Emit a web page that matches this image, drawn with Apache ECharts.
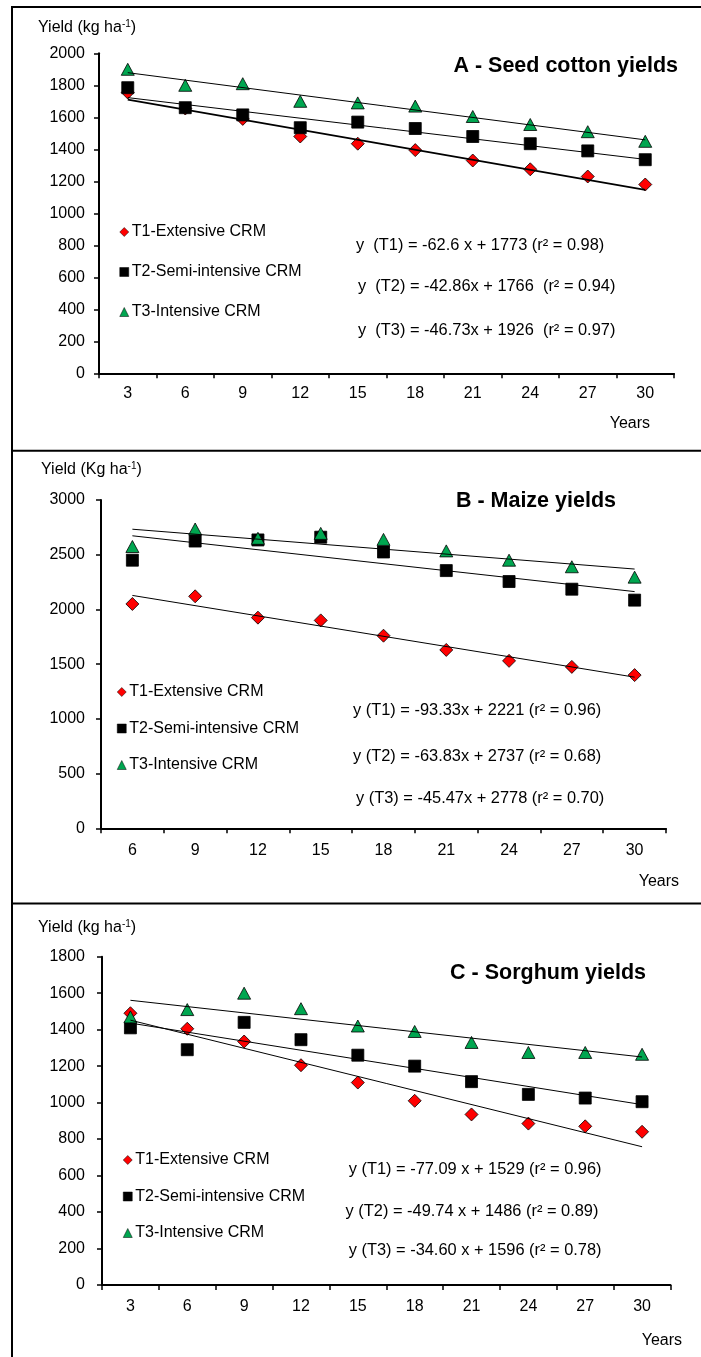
<!DOCTYPE html>
<html>
<head>
<meta charset="utf-8">
<script src="https://cdn.jsdelivr.net/npm/echarts@6/dist/echarts.min.js"></script>
<style>
html,body{margin:0;padding:0;background:#fff;}
#chart{width:701px;height:1357px;}
</style>
</head>
<body>
<div id="chart"></div>
<script>
// ---- data ----
const yearsA = ['3','6','9','12','15','18','21','24','27','30'];
const cottonT1 = [1755,1655,1590,1480,1435,1395,1330,1275,1230,1180];
const cottonT2 = [1785,1660,1615,1535,1570,1530,1480,1435,1390,1335];
const cottonT3 = [1900,1800,1810,1700,1690,1670,1605,1555,1510,1450];
const cottonTrendT1 = [1710,1147];
const cottonTrendT2 = [1723,1337];
const cottonTrendT3 = [1879,1459];

const yearsB = ['6','9','12','15','18','21','24','27','30'];
const maizeT1 = [2050,2120,1925,1900,1760,1630,1530,1475,1400];
const maizeT2 = [2450,2625,2635,2660,2525,2355,2255,2185,2085];
const maizeT3 = [2575,2735,2650,2695,2640,2535,2450,2390,2295];
const maizeTrendT1 = [2128,1381];
const maizeTrendT2 = [2673,2163];
const maizeTrendT3 = [2733,2369];

const yearsC = ['3','6','9','12','15','18','21','24','27','30'];
const sorghumT1 = [1490,1405,1335,1205,1110,1010,935,885,870,840];
const sorghumT2 = [1410,1290,1440,1345,1260,1200,1115,1045,1025,1005];
const sorghumT3 = [1470,1510,1600,1515,1420,1390,1330,1275,1275,1265];
const sorghumTrendT1 = [1452,758];
const sorghumTrendT2 = [1436,989];
const sorghumTrendT3 = [1561,1250];

const seriesNames = ['T1-Extensive CRM','T2-Semi-intensive CRM','T3-Intensive CRM'];
const yTicksA = {min:0, max:2000, interval:200};
const yTicksB = {min:0, max:3000, interval:500};
const yTicksC = {min:0, max:1800, interval:200};

const eqA = ['y  (T1) = -62.6 x + 1773 (r\u00b2 = 0.98)','y  (T2) = -42.86x + 1766  (r\u00b2 = 0.94)','y  (T3) = -46.73x + 1926  (r\u00b2 = 0.97)'];
const eqB = ['y (T1) = -93.33x + 2221 (r\u00b2 = 0.96)','y (T2) = -63.83x + 2737 (r\u00b2 = 0.68)','y (T3) = -45.47x + 2778 (r\u00b2 = 0.70)'];
const eqC = ['y (T1) = -77.09 x + 1529 (r\u00b2 = 0.96)','y (T2) = -49.74 x + 1486 (r\u00b2 = 0.89)','y (T3) = -34.60 x + 1596 (r\u00b2 = 0.78)'];

// ---- styles ----
const FF = '"Liberation Sans", Arial, sans-serif';
const FS = 16;
const EQFS = 16.4;
const RED = '#FF0000', BLACK = '#000000', GREEN = '#00A650';
const symbols = ['diamond','rect','triangle'];
const colors = [RED, BLACK, GREEN];
const sizes = [[13,13],[12,12],[13,12]];

const panels = [
  {cats: yearsA, vals:[cottonT1,cottonT2,cottonT3], trends:[cottonTrendT1,cottonTrendT2,cottonTrendT3], y:yTicksA,
   grid:{left:99, top:53.3, width:575, height:320}, yLabMargin:14, xLabMargin:12, trendW:[1.8,1,1]},
  {cats: yearsB, vals:[maizeT1,maizeT2,maizeT3], trends:[maizeTrendT1,maizeTrendT2,maizeTrendT3], y:yTicksB,
   grid:{left:101, top:500, width:565, height:328.3}, yLabMargin:16, xLabMargin:14, trendW:[1,1,1]},
  {cats: yearsC, vals:[sorghumT1,sorghumT2,sorghumT3], trends:[sorghumTrendT1,sorghumTrendT2,sorghumTrendT3], y:yTicksC,
   grid:{left:102, top:956.7, width:568.5, height:328.3}, yLabMargin:17, xLabMargin:13.5, trendW:[1,1,1]}
];

const grid = [], xAxis = [], yAxis = [], series = [];
panels.forEach((p, i) => {
  grid.push(Object.assign({containLabel:false}, p.grid));
  xAxis.push({
    type:'category', gridIndex:i, data:p.cats, boundaryGap:true,
    axisLine:{lineStyle:{color:BLACK, width:2}},
    axisTick:{show:true, length:5, lineStyle:{color:BLACK, width:1.5}, alignWithLabel:false},
    axisLabel:{color:BLACK, fontSize:FS, fontFamily:FF, margin:p.xLabMargin},
    splitLine:{show:false}
  });
  yAxis.push({
    type:'value', gridIndex:i, min:p.y.min, max:p.y.max, interval:p.y.interval,
    axisLine:{show:true, lineStyle:{color:BLACK, width:2}},
    axisTick:{show:true, length:5, lineStyle:{color:BLACK, width:1.5}},
    axisLabel:{color:BLACK, fontSize:FS, fontFamily:FF, margin:p.yLabMargin, formatter: v => String(v)},
    splitLine:{show:false}
  });
  p.vals.forEach((vals, k) => {
    series.push({
      name: seriesNames[k], type:'scatter', xAxisIndex:i, yAxisIndex:i,
      symbol: symbols[k], symbolSize: sizes[k],
      itemStyle:{color:colors[k], borderColor:BLACK, borderWidth:0.8, opacity:1},
      data: vals.map((v, j) => [p.cats[j], v]), z:2
    });
  });
  p.trends.forEach((t, k) => {
    series.push({
      name: 'trend-' + i + '-' + k, type:'line', xAxisIndex:i, yAxisIndex:i,
      symbol:'none', silent:true,
      lineStyle:{color:BLACK, width:p.trendW[k]},
      data: [[p.cats[0], t[0]], [p.cats[p.cats.length-1], t[1]]], z:4
    });
  });
});

function legendAt(left, top, gap) {
  return {
    orient:'vertical', left:left, top:top, itemGap:gap, itemWidth:9, itemHeight:9,
    padding:0, selectedMode:false,
    itemStyle:{borderWidth:0.5},
    textStyle:{color:BLACK, fontSize:FS, fontFamily:FF, lineHeight:16, padding:[0,0,0,-2]},
    data: seriesNames.map((n, k) => ({name:n, icon:symbols[k]}))
  };
}

function txt(x, y, text, opts) {
  return {type:'text', x:x, y:y, silent:true,
    style:Object.assign({text:text, fill:BLACK, font: EQFS + 'px ' + FF, align:'left', verticalAlign:'middle'}, opts || {})};
}
function yName(x, y, unit) {
  return {type:'text', x:x, y:y, silent:true,
    style:{text:'{a|Yield (' + unit + ' ha}{s|-1}{a|)}', fill:BLACK, align:'left', verticalAlign:'middle',
      rich:{a:{fontSize:FS, fontFamily:FF, lineHeight:18, fill:BLACK},
            s:{fontSize:10, fontFamily:FF, verticalAlign:'top', lineHeight:18, fill:BLACK}}}};
}
const titleFont = 'bold 21.5px ' + FF;

const graphic = [
  // frame
  {type:'line', shape:{x1:12, y1:6, x2:12, y2:1357}, style:{stroke:BLACK, lineWidth:2}, silent:true},
  {type:'line', shape:{x1:11, y1:7, x2:701, y2:7}, style:{stroke:BLACK, lineWidth:2}, silent:true},
  {type:'line', shape:{x1:11, y1:450.7, x2:701, y2:450.7}, style:{stroke:BLACK, lineWidth:2}, silent:true},
  {type:'line', shape:{x1:11, y1:903.5, x2:701, y2:903.5}, style:{stroke:BLACK, lineWidth:2}, silent:true},
  // panel A
  yName(38, 28, 'kg'),
  txt(678, 66, 'A - Seed cotton yields', {font:titleFont, align:'right'}),
  txt(650, 424, 'Years', {align:'right', font: FS + 'px ' + FF}),
  txt(356, 245, eqA[0]), txt(358, 286, eqA[1]), txt(358, 330, eqA[2]),
  // panel B
  yName(41, 470, 'Kg'),
  txt(616, 500.7, 'B - Maize yields', {font:titleFont, align:'right'}),
  txt(679, 882, 'Years', {align:'right', font: FS + 'px ' + FF}),
  txt(353, 710, eqB[0]), txt(353, 756, eqB[1]), txt(356, 798, eqB[2]),
  // panel C
  yName(38, 928, 'kg'),
  txt(646, 973, 'C - Sorghum yields', {font:titleFont, align:'right'}),
  txt(682, 1340.7, 'Years', {align:'right', font: FS + 'px ' + FF}),
  txt(348.7, 1169, eqC[0]), txt(345.6, 1211.7, eqC[1]), txt(348.7, 1250.7, eqC[2])
];

const chart = echarts.init(document.getElementById('chart'), null, {renderer:'canvas'});
chart.setOption({
  animation:false,
  backgroundColor:'#ffffff',
  grid: grid, xAxis: xAxis, yAxis: yAxis, series: series,
  legend:[legendAt(119.5, 224, 24), legendAt(117, 684, 20.5), legendAt(123, 1152, 20.5)],
  graphic: graphic
});
</script>
</body>
</html>
